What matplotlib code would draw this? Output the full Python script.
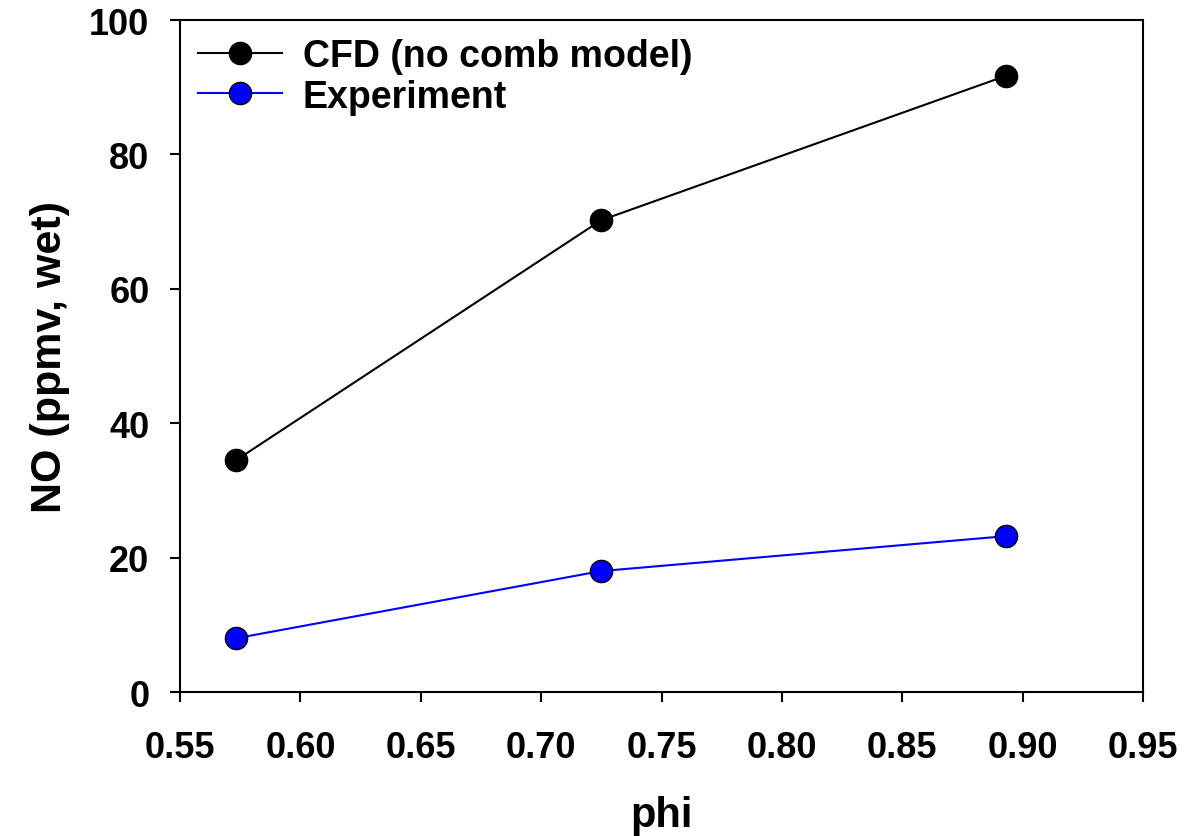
import matplotlib
matplotlib.use("Agg")
import matplotlib.pyplot as plt

phi = [0.5733, 0.7249, 0.8931]
cfd = [34.5, 70.2, 91.7]
exp = [8.0, 18.0, 23.2]
xticks = [0.55, 0.60, 0.65, 0.70, 0.75, 0.80, 0.85, 0.90, 0.95]
yticks = [0, 20, 40, 60, 80, 100]

plt.rcParams['font.family'] = ['Liberation Sans', 'DejaVu Sans']
plt.rcParams['font.weight'] = 'bold'

fig = plt.figure(figsize=(11.96, 8.37), dpi=100)
ax = fig.add_axes([0.1505, 0.172, 0.8052, 0.8029])

ax.plot(phi, cfd, color='black', lw=1.5, marker='o', ms=16, mfc='black', mec='black', mew=1, label='CFD (no comb model)')
ax.plot(phi, exp, color='blue', lw=1.5, marker='o', ms=16, mfc='blue', mec='black', mew=1, label='Experiment')

ax.set_xlim(0.55, 0.95)
ax.set_ylim(0, 100)
ax.set_xticks(xticks)
ax.set_xticklabels([f"{t:.2f}" for t in xticks])
ax.set_yticks(yticks)
ax.tick_params(direction='out', length=7, width=1.5, labelsize=26)
ax.tick_params(axis='x', pad=20)
ax.tick_params(axis='y', pad=15)
for lab in ax.get_xticklabels() + ax.get_yticklabels():
    lab.set_fontweight('bold')
for s in ax.spines.values():
    s.set_linewidth(1.5)

ax.set_xlabel('phi', fontsize=30, fontweight='bold', labelpad=22)
ax.set_ylabel('NO (ppmv, wet)', fontsize=31, fontweight='bold', labelpad=14)

leg = ax.legend(loc='upper left', frameon=False, handlelength=2.25,
                handletextpad=0.55, borderpad=0.35, borderaxespad=0.13, labelspacing=0.12,
                prop={'size': 27, 'weight': 'bold'})

fig.savefig('out.png', dpi=100)
